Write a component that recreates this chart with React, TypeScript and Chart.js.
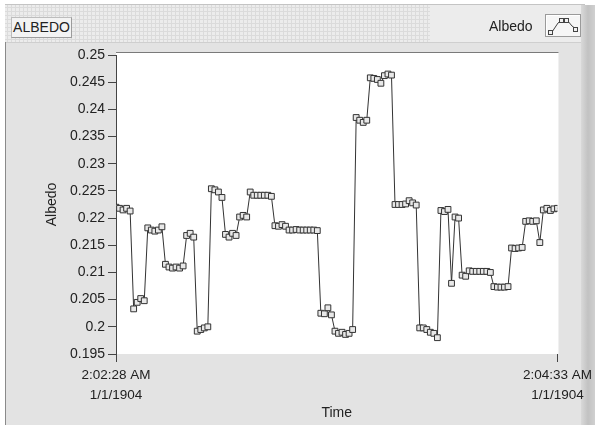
import React, { useEffect, useRef } from "react";
import { Chart, registerables } from "chart.js";

Chart.register(...registerables);

// Albedo samples, one per second from 2:02:28 AM to 2:04:33 AM
const ALBEDO_VALUES: number[] = [
  0.222, 0.2218, 0.2215, 0.2218, 0.2213, 0.2033, 0.2045, 0.2052, 0.2048, 0.2182,
  0.2178, 0.2176, 0.2178, 0.2184, 0.2115, 0.211, 0.2108, 0.211, 0.2108, 0.2112,
  0.2168, 0.2172, 0.2165, 0.1992, 0.1995, 0.1998, 0.2, 0.2254, 0.2252, 0.2248,
  0.2238, 0.217, 0.2165, 0.2172, 0.2168, 0.2202, 0.2205, 0.2202, 0.2248, 0.2242,
  0.2242, 0.2242, 0.2242, 0.2242, 0.224, 0.2186, 0.2185, 0.2188, 0.2185, 0.2178,
  0.2178, 0.2179, 0.2178, 0.2178, 0.2178, 0.2178, 0.2178, 0.2177, 0.2025, 0.2024,
  0.2035, 0.2022, 0.1992, 0.1988, 0.199, 0.1986, 0.1988, 0.1995, 0.2385, 0.238,
  0.2376, 0.238, 0.2458, 0.2457, 0.2455, 0.2448, 0.2462, 0.2465, 0.2463, 0.2225,
  0.2225, 0.2225, 0.2226, 0.2232, 0.2228, 0.2224, 0.1998, 0.1998, 0.1995, 0.199,
  0.1988, 0.198, 0.2214, 0.2212, 0.2216, 0.208, 0.2202, 0.22, 0.2095, 0.2093,
  0.2103, 0.2102, 0.2102, 0.2102, 0.2102, 0.2102, 0.21, 0.2074, 0.2073, 0.2073,
  0.2073, 0.2074, 0.2145, 0.2144, 0.2145, 0.2146, 0.2194, 0.2195, 0.2194, 0.2195,
  0.2155, 0.2215, 0.2218, 0.2214, 0.2217, 0.2218,
];

const SAMPLE_SECONDS = 1;
const X_RANGE: number[] = [0, 125];
const X_TICK_LABELS: string[][] = [
  ["2:02:28 AM", "1/1/1904"],
  ["2:04:33 AM", "1/1/1904"],
];
const Y_RANGE: number[] = [0.195, 0.25];
const Y_STEP = 0.005;
const SERIES_NAME = "Albedo";
const GRAPH_LABEL = "ALBEDO";

const FONT = "'Liberation Sans', Arial, sans-serif";

const panelPlugin = {
  id: "labviewPanel",
  beforeDraw(chart: any) {
    const { ctx, chartArea, width, height } = chart;
    ctx.save();
    ctx.fillStyle = "#ffffff";
    ctx.fillRect(0, 0, width, height);

    // header strip with grid texture
    ctx.fillStyle = "#ececec";
    ctx.fillRect(5, 5, 580, 37);
    ctx.strokeStyle = "#dbdbdb";
    ctx.lineWidth = 1;
    ctx.beginPath();
    for (let x = 7.5; x < 430; x += 4) {
      ctx.moveTo(x, 5);
      ctx.lineTo(x, 42);
    }
    for (let y = 7.5; y < 42; y += 4) {
      ctx.moveTo(5, y);
      ctx.lineTo(430, y);
    }
    ctx.stroke();
    ctx.strokeStyle = "#c4c4c4";
    ctx.beginPath();
    ctx.moveTo(5, 4.5);
    ctx.lineTo(585, 4.5);
    ctx.stroke();

    // main panel
    ctx.fillStyle = "#e3e3e3";
    ctx.fillRect(5, 42, 580, height - 42);
    ctx.strokeStyle = "#cfcfcf";
    ctx.beginPath();
    ctx.moveTo(5, 42.5);
    ctx.lineTo(585, 42.5);
    ctx.stroke();
    ctx.strokeStyle = "#8a8a8a";
    ctx.beginPath();
    ctx.moveTo(5.5, 42);
    ctx.lineTo(5.5, height);
    ctx.stroke();

    // right scroll strip
    const g = ctx.createLinearGradient(581, 0, 595, 0);
    g.addColorStop(0, "#d9d9d9");
    g.addColorStop(0.5, "#c2c2c2");
    g.addColorStop(1, "#d0d0d0");
    ctx.fillStyle = g;
    ctx.fillRect(581, 5, 14, height - 5);

    // plot area
    const { left, right, top, bottom } = chartArea;
    ctx.fillStyle = "#ffffff";
    ctx.fillRect(left, top - 2, right - left + 1, bottom - top + 2);
    ctx.strokeStyle = "#7a7a7a";
    ctx.beginPath();
    ctx.moveTo(left, top - 2.5);
    ctx.lineTo(right + 1, top - 2.5);
    ctx.stroke();

    // legend icon
    ctx.fillStyle = "#f6f6f6";
    ctx.fillRect(545, 14, 36, 23);
    ctx.strokeStyle = "#9a9a9a";
    ctx.strokeRect(545.5, 14.5, 35, 22);
    ctx.strokeStyle = "#ffffff";
    ctx.beginPath();
    ctx.moveTo(546.5, 35.5);
    ctx.lineTo(546.5, 15.5);
    ctx.lineTo(580, 15.5);
    ctx.stroke();
    ctx.strokeStyle = "#444";
    ctx.beginPath();
    ctx.moveTo(549, 33);
    ctx.lineTo(552, 32);
    ctx.lineTo(558, 23);
    ctx.lineTo(562, 20);
    ctx.lineTo(567, 20);
    ctx.lineTo(572, 26);
    ctx.lineTo(576, 29);
    ctx.stroke();
    ctx.fillStyle = "#f0f0f0";
    for (const [px, py] of [[550, 32], [561, 20], [566, 20], [575, 29]]) {
      ctx.fillRect(px - 2, py - 2, 4, 4);
      ctx.strokeRect(px - 2 + 0.5, py - 2 + 0.5, 4, 4);
    }
    ctx.restore();
  },
};

export default function App() {
  const canvasRef = useRef<HTMLCanvasElement | null>(null);

  useEffect(() => {
    document.body.style.margin = "0";
    const canvas = canvasRef.current;
    if (!canvas) return;
    const points = ALBEDO_VALUES.map((v, i) => ({ x: i * SAMPLE_SECONDS, y: v }));
    const chart = new Chart(canvas, {
      type: "line",
      data: {
        datasets: [
          {
            label: SERIES_NAME,
            data: points,
            borderColor: "#333333",
            borderWidth: 1,
            tension: 0,
            pointStyle: "rect",
            pointRadius: 4.1,
            pointBorderWidth: 1,
            pointBorderColor: "#333333",
            pointBackgroundColor: "#e8e8e8",
          },
        ],
      },
      options: {
        animation: false,
        responsive: false,
        maintainAspectRatio: false,
        layout: { padding: { left: 0, right: 34, top: 55, bottom: 0 } },
        plugins: {
          legend: { display: false },
          tooltip: { enabled: false },
        },
        scales: {
          x: {
            type: "linear",
            min: X_RANGE[0],
            max: X_RANGE[1],
            afterBuildTicks: (s: any) => {
              s.ticks = X_RANGE.map((v) => ({ value: v }));
            },
            afterFit: (s: any) => {
              s.height = 71;
            },
            ticks: {
              autoSkip: false,
              maxRotation: 0,
              padding: 3,
              color: "#222",
              font: { family: FONT, size: 13.5, lineHeight: 1.5 },
              callback: (v: any) => {
                const i = X_RANGE.indexOf(Number(v));
                return i >= 0 ? X_TICK_LABELS[i] : "";
              },
            },
            grid: {
              display: true,
              drawOnChartArea: false,
              drawTicks: true,
              tickLength: 8,
              color: "#444",
            },
            border: { display: false },
            title: {
              display: true,
              text: "Time",
              color: "#222",
              font: { family: FONT, size: 14 },
              padding: { top: 0, bottom: 3 },
            },
          },
          y: {
            min: Y_RANGE[0],
            max: Y_RANGE[1],
            afterFit: (s: any) => {
              s.width = 116;
            },
            ticks: {
              stepSize: Y_STEP,
              padding: 3,
              color: "#222",
              font: { family: FONT, size: 14 },
              callback: (v: any) => String(Number(Number(v).toFixed(3))),
            },
            grid: {
              display: true,
              drawOnChartArea: false,
              drawTicks: true,
              tickLength: 8,
              color: "#444",
            },
            border: { display: true, color: "#444", width: 1 },
            title: {
              display: true,
              text: SERIES_NAME,
              color: "#222",
              font: { family: FONT, size: 14 },
              padding: { top: 44, bottom: 0 },
            },
          },
        },
      },
      plugins: [panelPlugin],
    } as any);
    return () => chart.destroy();
  }, []);

  return (
    <div style={{ position: "relative", width: 595, height: 425, overflow: "hidden" }}>
      <canvas ref={canvasRef} width={595} height={425} style={{ display: "block", width: 595, height: 425 }} />
      <div
        style={{
          position: "absolute",
          left: 11,
          top: 17,
          width: 59,
          height: 19,
          background: "#f3f3f3",
          border: "1px solid #9c9c9c",
          borderTopColor: "#bdbdbd",
          borderLeftColor: "#bdbdbd",
          font: `14px ${FONT}`,
          color: "#222",
          lineHeight: "19px",
          textAlign: "center",
          boxSizing: "content-box",
        }}
      >
        {GRAPH_LABEL}
      </div>
      <div
        style={{
          position: "absolute",
          left: 489,
          top: 17,
          font: `14px ${FONT}`,
          color: "#222",
          lineHeight: "18px",
        }}
      >
        {SERIES_NAME}
      </div>
    </div>
  );
}
